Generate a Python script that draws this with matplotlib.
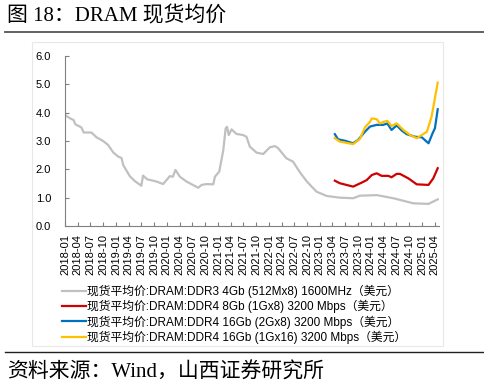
import pandas as pd
import matplotlib
matplotlib.use("Agg")
import matplotlib.pyplot as plt
from matplotlib.patches import Rectangle
from matplotlib.lines import Line2D

plt.rcParams['font.family'] = ['Liberation Sans', 'Noto Sans CJK SC']
plt.rcParams['axes.unicode_minus'] = False

# DDR3 4Gb
ddr3_dates = ['2018-01-01', '2018-02-06', '2018-03-04', '2018-03-16', '2018-04-28', '2018-05-15',
              '2018-07-09', '2018-08-15', '2018-10-01', '2018-11-06', '2018-12-12', '2019-01-17',
              '2019-02-10', '2019-02-22', '2019-04-10', '2019-05-15', '2019-07-02', '2019-07-14',
              '2019-08-12', '2019-10-18', '2019-12-05', '2020-01-22', '2020-02-13', '2020-03-02',
              '2020-04-03', '2020-05-20', '2020-08-12', '2020-09-06', '2020-10-12', '2020-11-28',
              '2020-12-10', '2021-01-10', '2021-02-08', '2021-02-25', '2021-03-07', '2021-03-19',
              '2021-04-08', '2021-05-13', '2021-06-30', '2021-07-24', '2021-08-17', '2021-10-04',
              '2021-11-21', '2022-01-08', '2022-02-14', '2022-03-07', '2022-05-06', '2022-06-23',
              '2022-08-10', '2022-09-28', '2022-12-08', '2023-02-19', '2023-05-23', '2023-08-27',
              '2023-10-14', '2024-02-12', '2024-06-10', '2024-11-01', '2025-02-17', '2025-04-24']
ddr3_vals = [3.92, 3.80, 3.74, 3.59, 3.48, 3.30,
             3.30, 3.13, 3.00, 2.86, 2.60, 2.45,
             2.40, 2.15, 1.76, 1.59, 1.42, 1.78,
             1.65, 1.57, 1.48, 1.76, 1.74, 1.98,
             1.74, 1.57, 1.35, 1.45, 1.48, 1.47,
             1.74, 1.92, 2.68, 3.45, 3.50, 3.21,
             3.41, 3.25, 3.21, 3.15, 2.80, 2.59,
             2.54, 2.78, 2.82, 2.75, 2.39, 2.27,
             1.90, 1.58, 1.21, 1.06, 1.00, 0.98,
             1.07, 1.09, 0.98, 0.80, 0.78, 0.94]

# DDR4 8Gb
ddr4_8g_dates = ['2023-04-18', '2023-05-23', '2023-08-27', '2023-10-27', '2023-12-02', '2024-01-08',
                 '2024-02-12', '2024-03-18', '2024-05-05', '2024-05-28', '2024-07-04', '2024-07-27',
                 '2024-09-26', '2024-11-25', '2025-02-17', '2025-03-23', '2025-04-24']
ddr4_8g_vals = [1.60, 1.51, 1.39, 1.53, 1.62, 1.80,
                1.86, 1.77, 1.77, 1.72, 1.84, 1.84,
                1.68, 1.47, 1.45, 1.68, 2.04]

# DDR4 16Gb (2Gx8)
ddr4_2g_dates = ['2023-04-18', '2023-05-11', '2023-06-29', '2023-08-27', '2023-10-02', '2023-11-20',
                 '2023-12-26', '2024-02-12', '2024-03-30', '2024-04-28', '2024-05-28', '2024-07-04',
                 '2024-08-09', '2024-09-14', '2024-11-13', '2024-12-31', '2025-02-17', '2025-03-18',
                 '2025-04-04', '2025-04-24']
ddr4_2g_vals = [3.24, 3.06, 3.01, 2.92, 3.04, 3.33,
                3.51, 3.57, 3.57, 3.62, 3.39, 3.55,
                3.37, 3.24, 3.15, 3.13, 2.92, 3.27,
                3.45, 4.12]

# DDR4 16Gb (1Gx16)
ddr4_1g_dates = ['2023-04-18', '2023-05-23', '2023-08-27', '2023-10-14', '2023-11-20', '2023-12-26',
                 '2024-01-08', '2024-02-12', '2024-03-06', '2024-04-04', '2024-04-28', '2024-05-28',
                 '2024-07-04', '2024-08-21', '2024-10-08', '2024-11-25', '2024-12-31', '2025-02-06',
                 '2025-03-11', '2025-04-24']
ddr4_1g_vals = [3.10, 2.98, 2.89, 3.07, 3.48, 3.68,
                3.80, 3.77, 3.62, 3.68, 3.71, 3.53,
                3.62, 3.39, 3.21, 3.10, 3.21, 3.33,
                3.86, 5.06]

labels = ['现货平均价:DRAM:DDR3 4Gb (512Mx8) 1600MHz（美元）',
          '现货平均价:DRAM:DDR4 8Gb (1Gx8) 3200 Mbps（美元）',
          '现货平均价:DRAM:DDR4 16Gb (2Gx8) 3200 Mbps（美元）',
          '现货平均价:DRAM:DDR4 16Gb (1Gx16) 3200 Mbps（美元）']
colors = ['#c0c0c0', '#d00000', '#0070c0', '#ffc000']

tick_dates = pd.date_range('2018-01-01', '2025-04-01', freq='3MS')

fig = plt.figure(figsize=(4.85, 3.92), dpi=100)
ax = fig.add_axes([65/485, 1-226/392, (438.7-65)/485, 170/392])

series = [(ddr3_dates, ddr3_vals), (ddr4_8g_dates, ddr4_8g_vals),
          (ddr4_2g_dates, ddr4_2g_vals), (ddr4_1g_dates, ddr4_1g_vals)]
for (d, v), c, lab in zip(series, colors, labels):
    ax.plot(pd.to_datetime(d), v, color=c, lw=1.6, label=lab)

ax.set_ylim(0, 6)
ax.set_yticks([0, 1, 2, 3, 4, 5, 6])
ax.set_yticklabels(['%.1f' % t for t in range(7)])
ax.set_xlim(pd.Timestamp('2018-01-01'), pd.Timestamp('2025-05-01'))
ax.set_xticks(tick_dates)
ax.set_xticklabels([t.strftime('%Y-%m') for t in tick_dates], rotation=90)
ax.tick_params(axis='both', direction='in', length=3, width=0.8, color='#808080',
               labelsize=8)
ax.tick_params(axis='y', pad=10)
ax.tick_params(axis='x', pad=6)
for s in ['top', 'right']:
    ax.spines[s].set_visible(False)
for s in ['left', 'bottom']:
    ax.spines[s].set_color('#808080')
    ax.spines[s].set_linewidth(0.8)

handles = [Line2D([], [], color=c, lw=1.6) for c in colors]
fig.legend(handles, labels, loc='upper left', bbox_to_anchor=(62/485, 1-285/392),
           frameon=False, fontsize=8.5, handlelength=2.0, handletextpad=0.1,
           labelspacing=0.16, borderaxespad=0, borderpad=0)

# chart frame
fig.patches.append(Rectangle((32/485, 1-346/392), (443-32)/485, (346-42)/392,
                             transform=fig.transFigure, fill=False,
                             edgecolor='#e8e8e8', lw=0.8))
# rules
fig.add_artist(Line2D([5/485, 1], [1-32/392, 1-32/392], transform=fig.transFigure,
                      color='#555555', lw=1.3))
fig.add_artist(Line2D([5/485, 1], [1-352/392, 1-352/392], transform=fig.transFigure,
                      color='#222222', lw=1.0))

fig.text(7/485, 1-16/392, '图 18：DRAM 现货均价', fontsize=15,
         family=['Liberation Serif', 'Noto Sans CJK SC'], va='center', ha='left')
fig.text(7/485, 1-373/392, '资料来源：Wind，山西证券研究所', fontsize=15,
         family=['Liberation Serif', 'Noto Sans CJK SC'], va='center', ha='left')

fig.savefig('out.png', dpi=100)
